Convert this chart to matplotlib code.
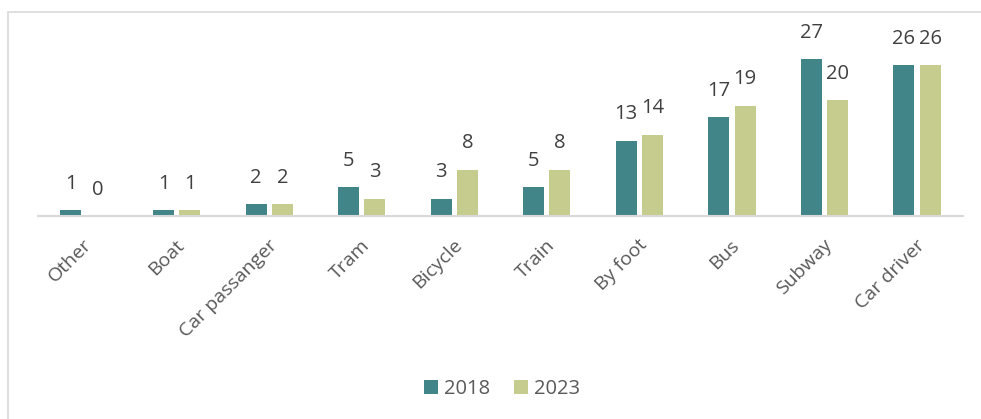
import numpy as np
import matplotlib.pyplot as plt
from matplotlib.patches import Rectangle
from matplotlib.transforms import ScaledTranslation

categories = ["Other", "Boat", "Car passanger", "Tram", "Bicycle",
              "Train", "By foot", "Bus", "Subway", "Car driver"]
values_2018 = [1, 1, 2, 5, 3, 5, 13, 17, 27, 26]
values_2023 = [0, 1, 2, 3, 8, 8, 14, 19, 20, 26]

plt.rcParams['font.family'] = ['Open Sans', 'DejaVu Sans']

fig = plt.figure(figsize=(9.81, 4.19), dpi=100)
ax = fig.add_axes([0.0387, 0.4845, 0.943, 0.486])

x = np.arange(len(categories))
w = 0.227
off = 0.143
b1 = ax.bar(x - off, values_2018, w, color="#418589", label="2018")
b2 = ax.bar(x + off, values_2023, w, color="#C6CC8D", label="2023")

# value labels
for bars, vals in [(b1, values_2018), (b2, values_2023)]:
    for r, v in zip(bars, vals):
        ax.annotate(str(v), (r.get_x() + r.get_width() / 2, r.get_height()),
                    xytext=(0, 19), textcoords="offset points",
                    ha="center", va="center", fontsize=14.5, color="#404040")

ax.set_xlim(-0.5, len(categories) - 0.5)
ax.set_ylim(0, 35.1)
ax.set_yticks([])
for s in ["top", "right", "left"]:
    ax.spines[s].set_visible(False)
ax.spines["bottom"].set_color("#D9D9D9")
ax.spines["bottom"].set_linewidth(1.5)

ax.set_xticks(x)
ax.set_xticklabels(categories, rotation=45, ha="right", va="center",
                   rotation_mode="anchor", fontsize=14, color="#595959")
ax.tick_params(axis="x", length=0, pad=19)
shift = ScaledTranslation(5 / 100, 0, fig.dpi_scale_trans)
for lbl in ax.get_xticklabels():
    lbl.set_transform(lbl.get_transform() + shift)

fig.legend(loc="center", bbox_to_anchor=(0.512, 0.072), ncol=2, frameon=False,
           fontsize=14.5, handlelength=0.7, handleheight=0.7, handletextpad=0.3,
           columnspacing=1.2, labelcolor="#595959")

# chart border
fig.patches.append(Rectangle((8 / 981, -0.05), 1.0, 1.0 - 12 / 419 + 0.05,
                             transform=fig.transFigure, fill=False,
                             edgecolor="#D9D9D9", linewidth=1.2))

fig.savefig("out.png", dpi=100)
